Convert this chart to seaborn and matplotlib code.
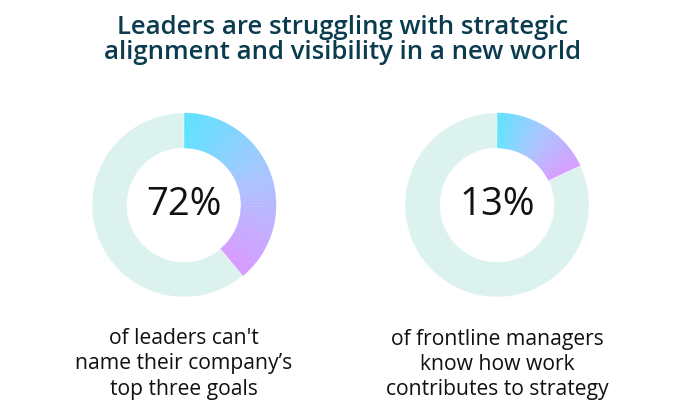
import matplotlib
matplotlib.use("Agg")
import matplotlib.pyplot as plt
import seaborn as sns
import numpy as np
from matplotlib.colors import LinearSegmentedColormap

sns.set_theme(style="white")
plt.rcParams['font.family'] = ['Open Sans', 'DejaVu Sans']

title = "Leaders are struggling with strategic\nalignment and visibility in a new world"
labels = ["72%", "13%"]
arc_shares = [39, 18]  # visual share of colored arc (percent of circle)
captions = ["of leaders can't\nname their company’s\ntop three goals",
            "of frontline managers\nknow how work\ncontributes to strategy"]
centers_x = [184, 497]

W, H = 685, 420
fig = plt.figure(figsize=(W/100, H/100), dpi=100)
fig.text(0.5, 1 - 40/H, title, ha='center', va='center', fontsize=18.5,
         color='#0b3b4f', fontweight='semibold', linespacing=1.05)

cmap = LinearSegmentedColormap.from_list("g", ["#5ee2ff", "#a9c4ff", "#d89bff"])
R = 92
for cx, lab, share, cap in zip(centers_x, labels, arc_shares, captions):
    ax = fig.add_axes([(cx - R)/W, 1 - (205 + R)/H, 2*R/W, 2*R/H])
    n = 60
    vals = [share/n]*n + [100 - share]
    cols = [cmap(i/(n-1)) for i in range(n)] + ['#dcf2ef']
    ax.pie(vals, colors=cols, startangle=90, counterclock=False,
           wedgeprops=dict(width=0.38, linewidth=0.3, edgecolor=None), radius=1)
    for w in ax.patches[:n]:
        w.set_edgecolor(w.get_facecolor())
    ax.set_xlim(-1, 1); ax.set_ylim(-1, 1)
    ax.set_aspect('equal')
    ax.text(0, 0, lab, ha='center', va='center', fontsize=27.5, color='#111111')
    fig.text(cx/W, 1 - 364/H, cap, ha='center', va='center', fontsize=15.2,
             color='#111111', linespacing=1.25)

fig.savefig("out.png", dpi=100)
